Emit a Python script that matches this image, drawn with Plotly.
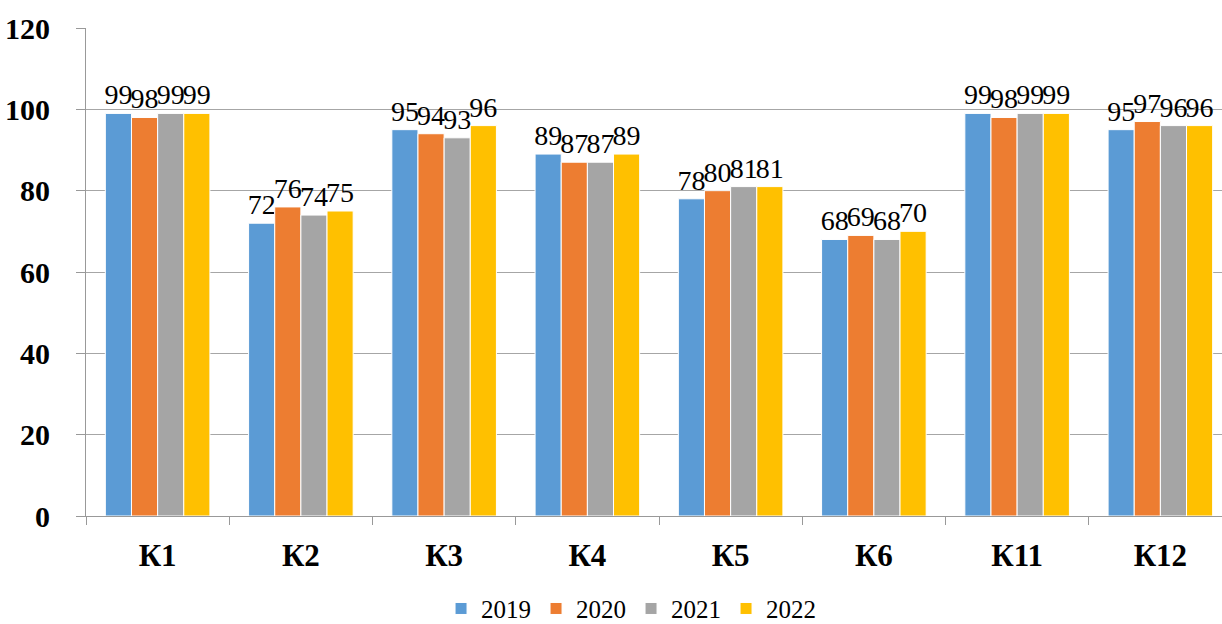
import plotly.graph_objects as go

categories = ["К1", "К2", "К3", "К4", "К5", "К6", "К11", "К12"]
years = ["2019", "2020", "2021", "2022"]
v2019 = [99, 72, 95, 89, 78, 68, 99, 95]
v2020 = [98, 76, 94, 87, 80, 69, 98, 97]
v2021 = [99, 74, 93, 87, 81, 68, 99, 96]
v2022 = [99, 75, 96, 89, 81, 70, 99, 96]
series = [v2019, v2020, v2021, v2022]
colors = ["#5B9BD5", "#ED7D31", "#A5A5A5", "#FFC000"]

font_family = "Liberation Serif"

fig = go.Figure()
for name, vals, col in zip(years, series, colors):
    fig.add_trace(go.Bar(
        name=name, x=categories, y=vals,
        marker=dict(color=col, line=dict(color="white", width=1)),
        text=[str(v) for v in vals], textposition="outside",
        textfont=dict(family=font_family, size=28, color="black"),
        constraintext="none", cliponaxis=False,
    ))

fig.update_layout(
    barmode="group", bargap=0.27, bargroupgap=0,
    width=1240, height=624,
    margin=dict(l=86, r=8, t=28, b=108, autoexpand=False),
    plot_bgcolor="white", paper_bgcolor="white",
    font=dict(family=font_family, color="black"),
    legend=dict(orientation="h", x=0.4756, xanchor="center", y=-0.19, yanchor="middle",
                font=dict(family=font_family, size=25, color="black"),
                itemwidth=30, tracegroupgap=0),
    xaxis=dict(showline=True, linecolor="#999999", linewidth=1, automargin=False,
               ticks="outside", tickson="boundaries", ticklen=8, tickcolor="#999999",
               tickfont=dict(family=font_family, size=31, color="black", weight="bold"),
               ticklabelstandoff=12, showgrid=False),
    yaxis=dict(range=[0, 120], dtick=20, showgrid=True, gridcolor="#A6A6A6", gridwidth=1,
               showline=True, linecolor="#999999", linewidth=1, automargin=False,
               ticks="outside", ticklen=9, tickcolor="#999999",
               tickfont=dict(family=font_family, size=30, color="black", weight="bold"),
               ticklabelstandoff=20, zeroline=False),
)

fig.write_html(
    "out.html",
    config={"displayModeBar": False},
    post_script="document.body.style.margin='0';document.body.style.overflow='hidden';",
)
